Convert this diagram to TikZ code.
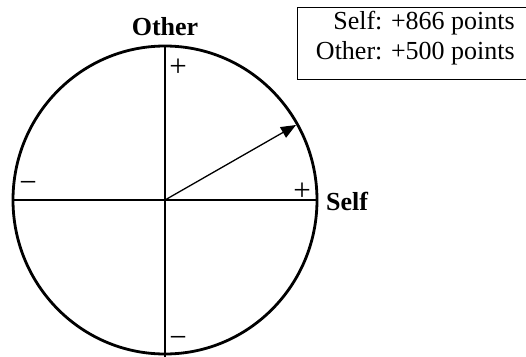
\documentclass[tikz,border=0pt]{standalone}
\usepackage{fontspec}
\setmainfont{Liberation Serif}
\usetikzlibrary{arrows.meta}
\tikzset{
  axis/.style={line width=2.8pt},
  ring/.style={line width=2.8pt},
  vec/.style={line width=1.3pt,-{Triangle[length=15pt,width=12pt]}},
  sign/.style={font=\fontsize{31}{31}\selectfont,inner sep=0pt},
  axlabel/.style={font=\fontsize{26}{26}\selectfont\bfseries,inner sep=0pt},
  infotext/.style={font=\fontsize{26}{30}\selectfont,inner sep=0pt,anchor=base east}
}
\begin{document}
\begin{tikzpicture}[x=1pt,y=-1pt]
\useasboundingbox (0,0) rectangle (526,356);
\coordinate (O) at (165,200);
\draw[ring] (O) ellipse [x radius=152, y radius=154];
\coordinate (L) at (13,200);
\coordinate (R) at (318,200);
\coordinate (T) at (165,46);
\coordinate (B) at (165,357);
\coordinate (tip) at (296,125);
\draw[axis] (L) -- (R);
\draw[axis] (T) -- (B);
\draw[vec] (O) -- (tip);
\node[axlabel,anchor=base] (other) at (165,35) {Other};
\node[axlabel,anchor=base west] (self) at (326,210) {Self};
\node[sign] (ptop) at (178,68) {+};
\node[sign] (pright) at (302,192) {+};
\node[sign] (mleft) at (28,187) {−};
\node[sign] (mbottom) at (178,342) {−};
\coordinate (boxa) at (297,7.5);
\coordinate (boxb) at (530,79);
\draw[line width=1pt] (boxa) rectangle (boxb);
\node[infotext] (l1) at (515,29) {Self: +866 points};
\node[infotext] (l2) at (515,59) {Other: +500 points};
\end{tikzpicture}
\end{document}
